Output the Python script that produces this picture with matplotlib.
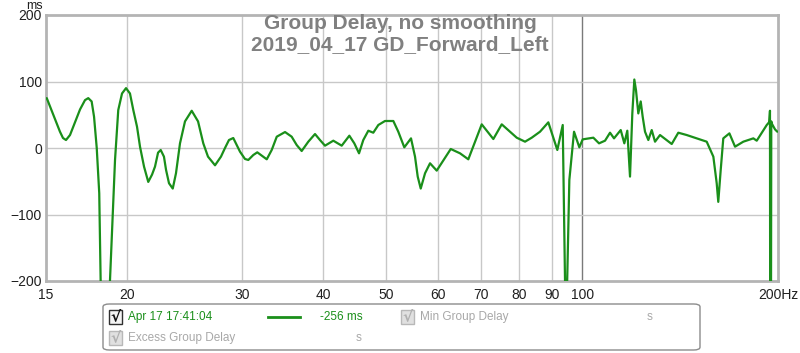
import numpy as np
import matplotlib
matplotlib.use('Agg')
import matplotlib.pyplot as plt
from matplotlib.patches import FancyBboxPatch, Rectangle
from matplotlib.ticker import FixedLocator, NullLocator

# 測定データ (周波数 Hz, 群遅延 ms)
freq_hz = [15.04, 15.39, 15.76, 15.93, 16.10, 16.33, 16.52, 16.92, 17.22, 17.42,
           17.63, 17.78, 17.95, 18.11, 18.20, 18.40, 18.65, 18.81, 19.15, 19.37,
           19.63, 19.91, 20.19, 20.43, 20.70, 20.92, 21.22, 21.54, 21.83, 22.06,
           22.30, 22.51, 22.77, 22.94, 23.18, 23.49, 23.76, 24.10, 24.53, 25.12,
           25.69, 26.17, 26.61, 27.28, 27.86, 28.26, 28.66, 29.10, 29.80, 30.33,
           30.69, 31.24, 31.68, 32.18, 32.76, 33.34, 33.94, 34.95, 35.78, 36.42,
           37.07, 37.95, 38.86, 39.55, 40.26, 41.46, 42.71, 43.88, 44.66, 45.41,
           46.10, 46.93, 47.76, 48.62, 49.78, 51.27, 52.18, 53.30, 54.58, 55.36,
           55.89, 56.49, 57.36, 58.38, 59.78, 62.82, 64.92, 66.85, 70.10, 73.04,
           75.24, 79.34, 81.71, 83.67, 86.16, 88.73, 91.60, 93.37, 94.13, 94.45,
           94.85, 95.58, 97.18, 99.02, 100.2, 104.05, 106.17, 108.45, 110.38, 111.95,
           114.64, 116.11, 117.34, 118.47, 119.44, 120.29, 121.0, 122.0, 123.04, 123.9,
           124.93, 126.40, 127.93, 129.43, 131.74, 137.31, 140.55, 144.79, 150.0, 155.4,
           159.1, 161.0, 161.9, 163.3, 164.8, 168.4, 171.8, 176.9, 183.3, 185.5,
           192.2, 193.9, 194.4, 194.6, 195.0, 195.3, 195.6, 197.9, 199.5]
group_delay_ms = [75, 50, 24.5, 15, 12, 19.5, 32, 58, 72, 75,
                  70, 47, 0, -68, -200, -330, -330, -200, -18, 57,
                  82, 90, 82, 57, 32, 2, -28, -51, -40, -28,
                  -7, -3, -13, -33, -53, -61, -38, 7, 40, 56,
                  40, 7, -13, -26, -13, 0, 12, 15, -5.5, -16.5,
                  -18, -10.5, -6.5, -11.5, -17, -3, 17, 24, 17, 4.5,
                  -4.5, 9.5, 21, 12, 3.5, 11, 3.5, 18.5, 7, -8,
                  12, 26, 23, 34.6, 40.6, 40.6, 24.5, 1, 14.5, -13,
                  -43, -61, -38, -23, -34, -1.5, -8, -17, 35.6, 13.5,
                  35.6, 15.5, 9.5, 15.5, 24.5, 38.6, -3, 34.6, -200, -350,
                  -200, -48, 24.5, 1, 13, 15.5, 7, 11, 23, 14.5,
                  27, 7, 26, -43, 52, 103, 87, 52, 70, 47,
                  24.5, 12, 27, 9.5, 19.5, 6, 23, 19.5, 14.5, 9.5,
                  -13, -53, -81, -33, 14.5, 22, 2, 9.5, 14.5, 11,
                  34.6, 39, 56, -400, -400, 40, 37, 28, 24.5]

x_ticks = [15, 20, 30, 40, 50, 60, 70, 80, 90, 100, 200]
x_tick_labels = ['15', '20', '30', '40', '50', '60', '70', '80', '90', '100', '200Hz']
y_ticks = [-200, -100, 0, 100, 200]

title_lines = 'Group Delay, no smoothing\n2019_04_17 GD_Forward_Left'

W, H = 800, 353
plt.rcParams['font.family'] = ['Liberation Sans Narrow', 'Liberation Sans', 'DejaVu Sans']

fig = plt.figure(figsize=(W / 100, H / 100), dpi=100)
fig.patch.set_facecolor('white')

# プロット領域 (ピクセル指定)
left, right, top, bottom = 46, 778, 15, 281
ax = fig.add_axes([left / W, 1 - bottom / H, (right - left) / W, (bottom - top) / H])

ax.set_xscale('log')
ax.set_xlim(15, 200)
ax.set_ylim(-200, 200)

ax.plot(freq_hz, group_delay_ms, color='#1a8f1a', linewidth=1.6,
        solid_joinstyle='round', solid_capstyle='round', zorder=3)

# グリッド
for f in x_ticks[1:-1]:
    ax.axvline(f, color='#7a7a7a' if f == 100 else '#c8c8c8', linewidth=1.0, zorder=1)
for v in y_ticks[1:-1]:
    ax.axhline(v, color='#c8c8c8', linewidth=1.0, zorder=1)

ax.xaxis.set_major_locator(FixedLocator(x_ticks))
ax.xaxis.set_minor_locator(NullLocator())
ax.set_xticklabels(x_tick_labels)
ax.set_yticks(y_ticks)
ax.tick_params(axis='both', length=0, labelsize=10, colors='#202020')
ax.tick_params(axis='x', pad=5)
ax.tick_params(axis='y', pad=3)

for sp in ax.spines.values():
    sp.set_color('#b4b4b4')
    sp.set_linewidth(2.0)

# タイトル (図の中央)
fig.text(400 / W, 1 - 14 / H, title_lines, ha='center', va='top',
         fontsize=15, color='#808080', fontweight='bold', family=['Liberation Sans', 'DejaVu Sans'],
         linespacing=1.12, zorder=4)

fig.text(34 / W, 1 - 6 / H, 'ms', ha='center', va='center', fontsize=9, color='#202020')

# 凡例ボックス
def px(x, y):
    return x / W, 1 - y / H

box = FancyBboxPatch(px(103, 350), 597 / W, 46 / H, boxstyle='round,pad=0,rounding_size=0.008',
                     transform=fig.transFigure, facecolor='white', edgecolor='#8c8c8c', linewidth=1.0)
fig.patches.append(box)

def checkbox(x, y, active):
    edge = '#303030' if active else '#b8b8b8'
    face = '#f4f4f4' if active else '#e0e0e0'
    r = Rectangle(px(x, y + 7), 13 / W, 14 / H, transform=fig.transFigure,
                  facecolor=face, edgecolor=edge, linewidth=1.0)
    fig.patches.append(r)
    fig.text(*px(x + 6.5, y), '\u221a', ha='center', va='center', fontsize=11, fontweight='bold',
             color='#101010' if active else '#b0b0b0', family=['DejaVu Sans'])

checkbox(109, 317, True)
fig.text(*px(128, 317), 'Apr 17 17:41:04', ha='left', va='center', fontsize=8.5, color='#1a8f1a')
fig.lines.append(plt.Line2D([268 / W, 300 / W], [1 - 317 / H] * 2, transform=fig.transFigure,
                            color='#1a8f1a', linewidth=2.0))
fig.text(*px(320, 317), '-256 ms', ha='left', va='center', fontsize=8.5, color='#1a8f1a')
checkbox(401, 317, False)
fig.text(*px(420, 317), 'Min Group Delay', ha='left', va='center', fontsize=8.5, color='#a8a8a8')
fig.text(*px(650, 317), 's', ha='center', va='center', fontsize=8.5, color='#a8a8a8')

checkbox(109, 338, False)
fig.text(*px(128, 338), 'Excess Group Delay', ha='left', va='center', fontsize=8.5, color='#a8a8a8')
fig.text(*px(359, 338), 's', ha='center', va='center', fontsize=8.5, color='#a8a8a8')

fig.savefig('out.png', dpi=100, facecolor='white')
